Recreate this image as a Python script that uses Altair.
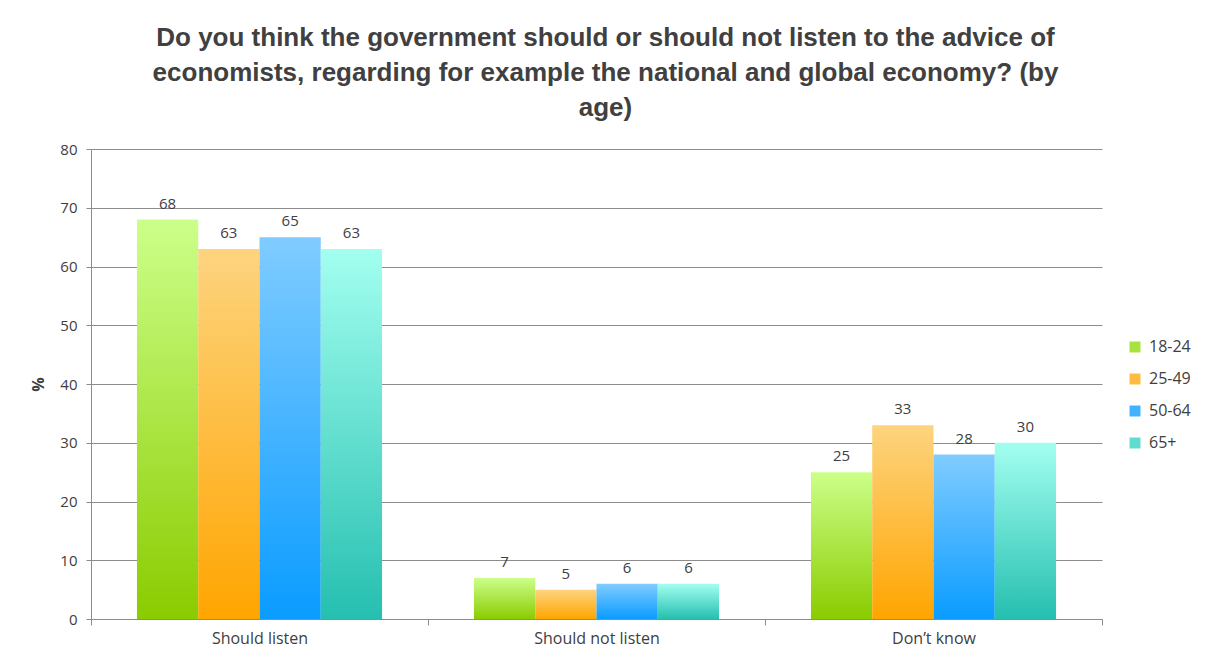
import altair as alt
import pandas as pd

categories = ["Should listen", "Should not listen", "Don\u2019t know"]
series = ["18-24", "25-49", "50-64", "65+"]
v_18_24 = [68, 7, 25]
v_25_49 = [63, 5, 33]
v_50_64 = [65, 6, 28]
v_65_plus = [63, 6, 30]

tops = ["#CCFF8A", "#FDD47F", "#80CCFF", "#A3FFF0"]
bottoms = ["#8ACC00", "#FFA500", "#0A9CFF", "#25BFB0"]
legend_colors = ["#A6E33F", "#FEBB3F", "#40B2FF", "#5FDCCE"]

title_lines = [
    "Do you think the government should or should not listen to the advice of",
    "economists, regarding for example the national and global economy? (by",
    "age)",
]

FONT = "Liberation Sans, sans-serif"
LFONT = "Open Sans, Liberation Sans, sans-serif"
TXT = "#404040"
GRID = "#8C8C8C"

rows = []
for s, vals in zip(series, [v_18_24, v_25_49, v_50_64, v_65_plus]):
    for c, v in zip(categories, vals):
        rows.append({"category": c, "age": s, "value": v})
df = pd.DataFrame(rows)

x_enc = alt.X(
    "category:N",
    sort=categories,
    scale=alt.Scale(domain=categories, paddingInner=0, paddingOuter=0),
    axis=alt.Axis(
        title=None, labelAngle=0, tickBand="extent", ticks=True, tickSize=6,
        grid=False, labelFontSize=16, labelColor=TXT, labelFont=LFONT,
        labelPadding=5, domainColor=GRID, tickColor=GRID,
    ),
)
xo_enc = alt.XOffset(
    "age:N", sort=series,
    scale=alt.Scale(domain=series, paddingInner=0, paddingOuter=0.75),
)
y_enc = alt.Y(
    "value:Q",
    scale=alt.Scale(domain=[0, 80], nice=False),
    axis=alt.Axis(
        values=list(range(0, 81, 10)), title="%", titleFontWeight="bold",
        titleFontSize=16, titleColor=TXT, titleFont=LFONT, titlePadding=13,
        labelFontSize=15, labelColor=TXT, labelFont=LFONT, labelPadding=9,
        tickSize=5, tickColor=GRID, domainColor=GRID, gridColor=GRID,
        grid=True,
    ),
)

base = alt.Chart(df)

legend_layer = base.mark_bar(opacity=0).encode(
    x=x_enc, xOffset=xo_enc, y=y_enc,
    color=alt.Color(
        "age:N", sort=series,
        scale=alt.Scale(domain=series, range=legend_colors),
        legend=alt.Legend(
            title=None, orient="none", legendX=1036, legendY=190,
            symbolType="square", symbolSize=120, symbolStrokeWidth=0,
            symbolOpacity=1, labelFontSize=16, labelColor=TXT, labelFont=LFONT,
            rowPadding=16, labelOffset=6,
        ),
    ),
)

layers = [legend_layer]
for s, t, b in zip(series, tops, bottoms):
    grad = alt.Gradient(
        gradient="linear",
        stops=[alt.GradientStop(color=t, offset=0), alt.GradientStop(color=b, offset=1)],
        x1=0, x2=0, y1=0, y2=1,
    )
    layers.append(
        base.transform_filter(alt.datum.age == s)
        .mark_bar(fill=grad)
        .encode(x=x_enc, xOffset=xo_enc, y=y_enc)
    )

labels = base.mark_text(
    dy=-11, baseline="alphabetic", fontSize=15, color=TXT, font=LFONT
).encode(x=x_enc, xOffset=xo_enc, y=y_enc, text="value:Q")
layers.append(labels)

chart = (
    alt.layer(*layers)
    .properties(
        width=1011,
        height=470,
        autosize=alt.AutoSizeParams(type="none"),
        padding={"left": 83, "top": 141, "right": 95, "bottom": 40},
        title=alt.TitleParams(
            text=title_lines, font=FONT, fontSize=26, fontWeight="bold",
            color=TXT, lineHeight=35, anchor="middle", offset=21, dx=9,
        ),
    )
    .configure_view(stroke=None)
    .configure_axis(domainWidth=1, tickWidth=1, gridWidth=1)
)

chart.save("out.html", embed_options={"renderer": "svg", "actions": False})
